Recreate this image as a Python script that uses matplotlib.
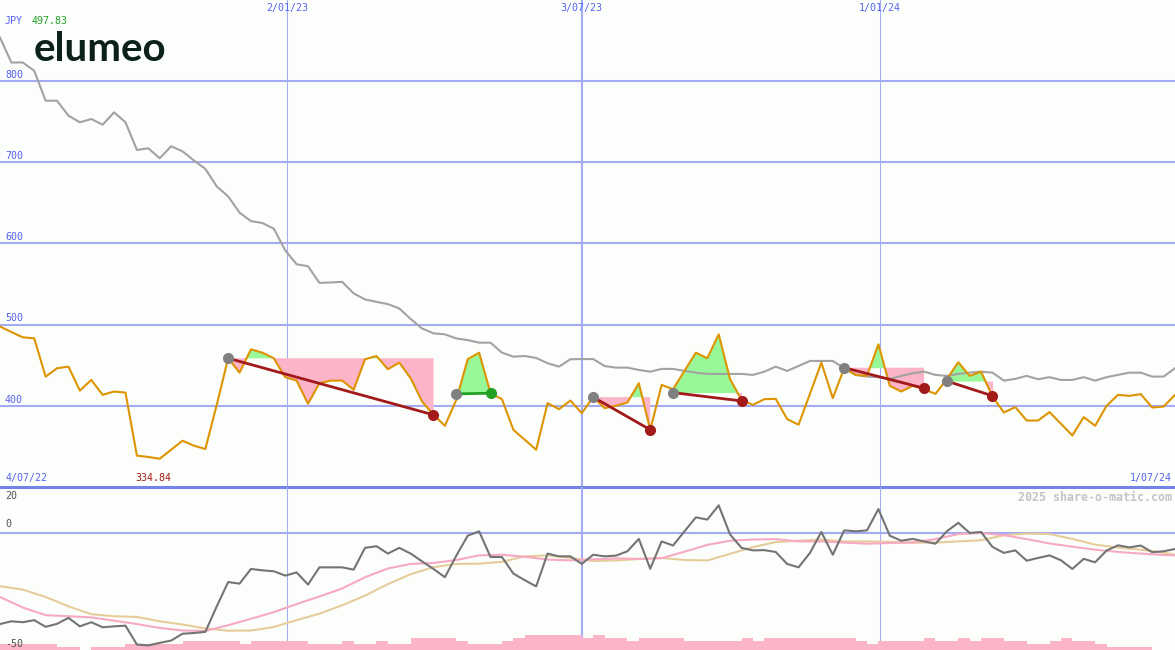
import matplotlib
matplotlib.use("Agg")
import matplotlib.pyplot as plt
import numpy as np

# === Data (weekly, 4/07/22 .. 1/07/24) ===
price = [497.8, 490.9, 484.4, 483.2, 436.0, 446.3, 448.3, 418.8, 431.9, 413.5,
         417.6, 416.3, 338.6, 337.0, 334.8, 345.9, 357.0, 350.9, 346.8, 401.2,
         458.6, 440.9, 469.7, 465.5, 458.6, 435.3, 431.1, 402.5, 427.9, 431.1,
         431.1, 419.7, 457.4, 461.4, 445.1, 453.2, 434.0, 405.3, 388.9, 375.4,
         407.4, 457.4, 465.5, 415.6, 408.2, 370.5, 358.2, 345.9, 403.3, 395.9,
         406.5, 391.0, 410.7, 397.2, 400.0, 404.1, 427.9, 370.5, 425.8, 420.5,
         443.0, 465.5, 458.6, 488.1, 432.8, 407.4, 401.2, 408.2, 408.6, 383.7,
         376.7, 414.7, 453.2, 409.5, 446.3, 438.1, 436.9, 475.8, 424.6, 417.6,
         424.6, 420.5, 414.7, 432.8, 453.7, 436.9, 442.1, 411.4, 391.8, 398.4,
         381.9, 381.9, 392.3, 377.9, 363.5, 386.1, 375.4, 400.0, 413.5, 412.3,
         414.4, 397.9, 399.1, 413.5]
price_high = 497.83
price_low = 334.84

avg_line = [853.7, 823.0, 823.0, 812.8, 775.9, 775.9, 757.5, 749.3, 753.4, 746.4,
            761.6, 749.3, 715.3, 717.3, 705.0, 719.8, 713.6, 702.2, 692.0, 670.3,
            658.0, 638.0, 627.6, 625.2, 618.3, 591.6, 574.4, 572.0, 551.5, 552.0,
            552.7, 538.5, 531.1, 528.1, 525.3, 520.0, 507.0, 495.3, 489.3, 488.1,
            483.0, 481.0, 477.8, 477.8, 465.5, 460.6, 461.4, 459.0, 452.5, 448.3,
            457.4, 457.6, 457.6, 449.0, 447.1, 447.1, 444.2, 442.1, 445.5, 445.5,
            443.0, 440.9, 439.3, 439.3, 439.3, 439.3, 438.1, 442.1, 448.3, 443.0,
            449.1, 455.3, 455.3, 455.3, 446.3, 438.1, 436.0, 435.3, 433.0, 436.9,
            440.2, 442.1, 438.1, 436.9, 439.3, 440.9, 442.1, 440.9, 431.1, 433.2,
            436.9, 432.8, 435.3, 431.9, 431.9, 435.3, 431.1, 435.3, 438.1, 440.9,
            440.9, 436.0, 436.0, 446.3]

osc = [-39.7, -38.5, -38.9, -38.0, -40.9, -39.6, -37.0, -40.7, -38.9, -41.1,
       -40.7, -40.4, -48.6, -49.0, -47.9, -46.9, -43.9, -43.6, -43.1, -32.0,
       -21.4, -22.1, -15.7, -16.3, -16.7, -18.6, -17.2, -22.5, -15.0, -15.0,
       -15.0, -16.0, -6.5, -5.8, -9.0, -6.5, -9.0, -12.4, -15.7, -19.3,
       -9.9, -1.2, 0.7, -10.5, -10.5, -17.7, -20.6, -23.3, -9.0, -10.2,
       -10.2, -13.5, -9.5, -10.2, -9.9, -8.0, -2.6, -15.6, -3.7, -5.5,
       0.7, 6.8, 5.8, 12.0, -0.7, -6.5, -7.6, -7.5, -8.3, -13.5,
       -15.0, -8.7, 0.4, -9.5, 1.1, 0.7, 1.1, 10.4, -1.2, -3.4,
       -2.6, -3.7, -4.7, 0.7, 4.4, 0.0, 0.4, -6.1, -8.7, -7.6,
       -12.1, -10.9, -9.8, -11.9, -15.7, -11.3, -12.8, -7.7, -5.4, -6.3,
       -5.5, -8.4, -8.0, -7.0]

smooth_x = list(range(0, 103, 2)) + [103]
osc_pink = [-27.9, -32.5, -35.8, -36.3, -36.8, -38.2, -39.7, -41.4, -42.5, -42.7,
            -40.2, -37.4, -34.5, -31.0, -27.7, -24.2, -19.3, -15.5, -13.5, -13.1,
            -11.8, -9.8, -9.5, -10.4, -11.6, -12.0, -11.5, -11.1, -11.3, -11.0,
            -8.2, -5.2, -3.4, -2.9, -2.7, -3.7, -3.7, -4.2, -4.7, -4.4,
            -4.1, -2.7, -0.5, 0.0, -1.0, -2.7, -4.6, -6.0, -7.3, -8.3,
            -9.0, -9.6, -9.8]
osc_tan = [-23.2, -24.7, -27.9, -32.0, -35.4, -36.3, -36.6, -38.5, -39.9, -41.6,
           -42.6, -42.5, -41.0, -38.0, -35.2, -31.5, -27.3, -22.3, -18.0, -14.9,
           -13.5, -13.4, -12.6, -10.2, -9.8, -10.9, -12.2, -12.0, -11.4, -10.9,
           -11.8, -12.0, -9.1, -6.2, -4.0, -3.4, -2.9, -3.7, -3.7, -3.9,
           -4.3, -4.2, -3.7, -3.2, -1.0, -0.3, -0.5, -2.6, -5.1, -6.4,
           -7.3, -8.6, -9.5]

volume = [2, 2, 2, 2, 2, 1, 1, 0, 1, 1,
          1, 2, 2, 2, 2, 2, 3, 3, 3, 3,
          3, 2, 3, 3, 3, 3, 3, 2, 2, 2,
          3, 2, 2, 3, 2, 2, 4, 4, 4, 4,
          3, 2, 2, 2, 3, 4, 5, 5, 5, 5,
          5, 4, 5, 4, 4, 3, 4, 4, 4, 4,
          3, 3, 3, 3, 3, 4, 3, 4, 4, 4,
          4, 4, 4, 4, 4, 3, 2, 3, 3, 3,
          3, 4, 3, 3, 4, 3, 4, 4, 3, 3,
          2, 2, 3, 4, 3, 3, 2, 1, 1, 1,
          1, 0, 0]

# signals: start / end week index and marker values
sig_start = [20, 40, 52, 59, 74, 83]
sig_end = [38, 43, 57, 65, 81, 87]
sig_start_val = [458.6, 414.7, 410.7, 416.3, 447.0, 430.5]
sig_end_val = [388.9, 415.6, 370.5, 406.0, 421.7, 412.3]

price_grid = [400, 500, 600, 700, 800]
date_ticks = [25.15, 51.0, 77.1]
date_labels = ["2/01/23", "3/07/23", "1/01/24"]
date_widths = [1.0, 2.0, 1.0]
first_date, last_date = "4/07/22", "1/07/24"
currency = "JPY"

# === Styles ===
BG = "#fcfefc"
GRID = "#a3abf2"
GRID_DARK = "#7483ea"
LABEL_BLUE = "#5563f2"
ORANGE = "#dd9400"
GRAY = "#a2a2a2"
PINK_FILL = "#fbb4c8"
GREEN_FILL = "#98f898"
RED = "#a31a1a"
GREEN = "#22a022"
MONO = "DejaVu Sans Mono"

x = np.arange(len(price))
price_a = np.array(price)

W, H = 1175, 650
fig = plt.figure(figsize=(W / 100, H / 100), dpi=100)
fig.patch.set_facecolor(BG)
split = (H - 487) / H

ax = fig.add_axes([0, split, 1, 1 - split])
ax_vol = fig.add_axes([0, 0, 1, split])
ax_low = fig.add_axes([0, 0, 1, split])
for a in (ax, ax_vol, ax_low):
    a.set_axis_off()
    a.set_xlim(0, len(price) - 1)
ax.set_ylim(300, 900)
ax_low.set_ylim(-51, 20)
ax_vol.set_ylim(0, 163 / 3)

# --- grid ---
for v in price_grid:
    ax.axhline(v, color=GRID, lw=1.5, zorder=0)
    ax.text(5 / W, v + 1.5, str(v), transform=ax.get_yaxis_transform(),
            ha="left", va="bottom", family=MONO, fontsize=7.2, color=LABEL_BLUE)
ax.axhline(300, color=GRID_DARK, lw=2.2, zorder=6, clip_on=False)
for xt, lab, lw in zip(date_ticks, date_labels, date_widths):
    ax.axvline(xt, color=GRID, lw=lw * 0.75, zorder=0)
    ax_vol.axvline(xt, color=GRID, lw=lw * 0.75, zorder=0)
    ax.text(xt, 1 - 3.5 / 487, lab, transform=ax.get_xaxis_transform(),
            ha="center", va="top", family=MONO, fontsize=7.2, color=LABEL_BLUE)
ax_low.axhline(0, color=GRID, lw=1.5, zorder=0)

# --- main panel ---
ax.plot(x, avg_line, color=GRAY, lw=1.5, zorder=2)
for s, e, v0, v1 in zip(sig_start, sig_end, sig_start_val, sig_end_val):
    xs = x[s:e + 1]
    ps = price_a[s:e + 1]
    ax.fill_between(xs, ps, v0, where=ps >= v0, interpolate=True,
                    color=GREEN_FILL, lw=0, zorder=1)
    ax.fill_between(xs, ps, v0, where=ps <= v0, interpolate=True,
                    color=PINK_FILL, lw=0, zorder=1)
ax.plot(x, price, color=ORANGE, lw=1.5, zorder=3)
for s, e, v0, v1 in zip(sig_start, sig_end, sig_start_val, sig_end_val):
    c = GREEN if v1 >= v0 else RED
    ax.plot([s, e], [v0, v1], color=c, lw=2, zorder=4, solid_capstyle="butt")
    ax.plot(s, v0, "o", color="#808080", ms=8, mew=0, zorder=5)
    ax.plot(e, v1, "o", color=c, ms=8, mew=0, zorder=5)

# labels in main panel
ax.text(5 / W, 1 - 16 / 487, currency, transform=ax.transAxes, ha="left", va="top",
        family=MONO, fontsize=7.2, color=LABEL_BLUE)
ax.text(32 / W, 1 - 16 / 487, f"{price_high:.2f}", transform=ax.transAxes,
        ha="left", va="top", family=MONO, fontsize=7.2, color=GREEN)
imin = int(np.argmin(price_a))
ax.annotate(f"{price_low:.2f}", (imin, 0), xycoords=ax.get_xaxis_transform(),
            xytext=(-24, 4), textcoords="offset pixels", ha="left", va="bottom",
            family=MONO, fontsize=7.2, color=RED)
ax.text(6 / W, 4 / 487, first_date, transform=ax.transAxes, ha="left", va="bottom",
        family=MONO, fontsize=7.2, color=LABEL_BLUE)
ax.text(1 - 3 / W, 4 / 487, last_date, transform=ax.transAxes, ha="right", va="bottom",
        family=MONO, fontsize=7.2, color=LABEL_BLUE)
fig.text(34 / W, 1 - 61 / H, "elumeo", ha="left", va="baseline",
         family="Lato", weight="bold", fontsize=29, color="#0c2118")

# --- lower panel ---
ax_vol.bar(np.arange(len(volume)), volume, width=1.0, align="edge",
           color=PINK_FILL, lw=0, zorder=2)
ax_low.plot(smooth_x, osc_tan, color="#e6cc9a", lw=1.5, zorder=2)
ax_low.plot(smooth_x, osc_pink, color="#f7a9c3", lw=1.5, zorder=2)
ax_low.plot(x, osc, color="#747474", lw=1.5, zorder=3)

ax_low.text(5 / W, 1 - 4 / 163, "20", transform=ax_low.transAxes, ha="left", va="top",
            family=MONO, fontsize=7.2, color="#505050")
ax_low.text(5 / W, 1.5, "0", transform=ax_low.get_yaxis_transform(), ha="left",
            va="bottom", family=MONO, fontsize=7.2, color="#505050")
ax_low.text(5 / W, -50.5, "-50", transform=ax_low.get_yaxis_transform(), ha="left",
            va="bottom", family=MONO, fontsize=7.2, color="#505050")
ax_low.text(1 - 3 / W, 1 - 4 / 163, "2025 share-o-matic.com", transform=ax_low.transAxes,
            ha="right", va="top", family=MONO, weight="bold", fontsize=8.4,
            color="#c4c4c4")

fig.savefig("out.png", dpi=100, facecolor=BG)
